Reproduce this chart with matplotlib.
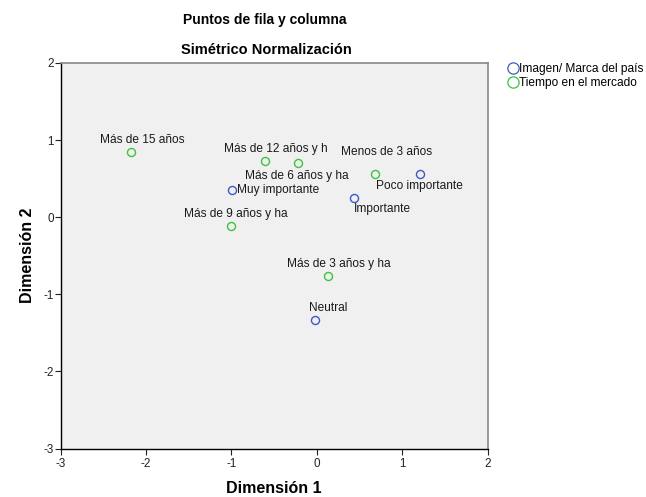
import matplotlib
matplotlib.use("Agg")
import matplotlib.pyplot as plt

plt.rcParams['font.family'] = ['Liberation Sans', 'DejaVu Sans']
plt.rcParams['axes.unicode_minus'] = False

# Row points (Imagen/ Marca del país)
row_labels = ["Muy importante", "Importante", "Poco importante", "Neutral"]
row_x = [-0.99, 0.43, 1.21, -0.02]
row_y = [0.35, 0.25, 0.56, -1.33]

# Column points (Tiempo en el mercado)
col_labels = ["Más de 15 años", "Más de 12 años y h", "Más de 6 años y ha",
              "Menos de 3 años", "Más de 9 años y ha", "Más de 3 años y ha"]
col_x = [-2.17, -0.61, -0.22, 0.68, -1.00, 0.13]
col_y = [0.85, 0.73, 0.70, 0.56, -0.11, -0.76]

series_names = ["Imagen/ Marca del país", "Tiempo en el mercado"]
xticks = [-3, -2, -1, 0, 1, 2]
yticks = [-3, -2, -1, 0, 1, 2]

# label offsets in pixels (left edge of text relative to point, vertical of text center)
row_off = [(5, 0), (0, -11), (-44, -12), (-6, 12)]
col_off = [(-31, 12), (-41, 12), (-53, -13), (-34, 22), (-47, 12), (-41, 12)]

blue = "#4058c8"
green = "#3cc43c"

fig = plt.figure(figsize=(6.46, 4.97), dpi=100)
ax = fig.add_axes([60.5/646, 1-448.5/497, (487.7-60.5)/646, (448.5-63)/497])
ax.set_facecolor("#f0f0f0")

ax.plot(row_x, row_y, linestyle='none', marker='o', markersize=5.8, markerfacecolor='none',
        markeredgecolor=blue, markeredgewidth=1.0, label=series_names[0])
ax.plot(col_x, col_y, linestyle='none', marker='o', markersize=5.8, markerfacecolor='none',
        markeredgecolor=green, markeredgewidth=1.0, label=series_names[1])

fs = 8.6
for lab, x, y, (dx, dy) in zip(row_labels, row_x, row_y, row_off):
    ax.annotate(lab, (x, y), xytext=(dx*0.72, dy*0.72), textcoords='offset points',
                ha='left', va='center', fontsize=fs, color='#1a1a1a')
for lab, x, y, (dx, dy) in zip(col_labels, col_x, col_y, col_off):
    ax.annotate(lab, (x, y), xytext=(dx*0.72, dy*0.72), textcoords='offset points',
                ha='left', va='center', fontsize=fs, color='#1a1a1a')

ax.set_xlim(-3, 2)
ax.set_ylim(-3, 2)
ax.set_xticks(xticks)
ax.set_yticks(yticks)
ax.tick_params(direction='out', length=4, width=0.8, labelsize=8.4, pad=1, colors='#222222')
ax.tick_params(axis='x', pad=3)
for s in ['left', 'bottom']:
    ax.spines[s].set_color('black')
    ax.spines[s].set_linewidth(1.0)
for s in ['top', 'right']:
    ax.spines[s].set_color('#888888')
    ax.spines[s].set_linewidth(1.2)

ax.set_xlabel("Dimensión 1", fontsize=11.5, fontweight='bold', labelpad=8)
ax.set_ylabel("Dimensión 2", fontsize=11.5, fontweight='bold', labelpad=6)

fig.text(265/646, 1-20/497, "Puntos de fila y columna", ha='center', va='center',
         fontsize=10, fontweight='bold')
fig.text(266/646, 1-50/497, "Simétrico Normalización", ha='center', va='center',
         fontsize=10.5, fontweight='bold')

leg = fig.legend(loc='upper left', bbox_to_anchor=(508/646, 1-63/497), frameon=False,
                 fontsize=8.6, handletextpad=0.05, handlelength=0.9, labelspacing=0.15,
                 borderaxespad=0, borderpad=0, markerscale=1.4)
for h in leg.legend_handles:
    h.set_markeredgewidth(0.9)

fig.savefig("out.png", dpi=100)
